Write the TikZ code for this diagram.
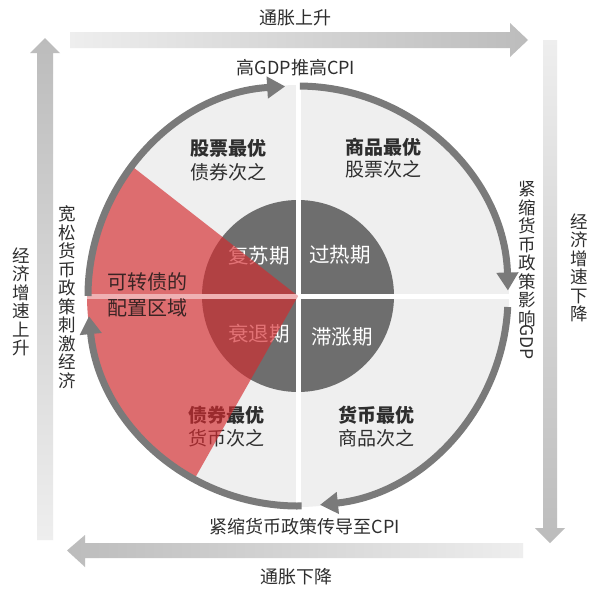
\documentclass[tikz,border=0pt]{standalone}
\usepackage{fontspec}
\newfontfamily\cjk{Noto Sans CJK SC}
\usetikzlibrary{arrows.meta,calc}
\definecolor{ringgray}{HTML}{7A7A7A}
\definecolor{diskgray}{HTML}{EFEFEF}
\definecolor{innergray}{HTML}{6E6E6E}
\definecolor{redov}{HTML}{D42A2E}
\definecolor{txt}{HTML}{2E2E2E}
\definecolor{cvtxt}{HTML}{3A2424}
\definecolor{barlight}{HTML}{EEEEEE}
\definecolor{bardark}{HTML}{BCBCBC}
\begin{document}
\begin{tikzpicture}[x=1pt,y=-1pt,
  lbl/.style={font=\cjk\fontsize{18}{20}\selectfont, text=txt, inner sep=0pt},
  quad/.style={font=\cjk\fontsize{19}{21}\selectfont, text=txt, inner sep=0pt, anchor=west},
  quadb/.style={quad, font=\cjk\bfseries\fontsize{19}{21}\selectfont},
  phase/.style={font=\cjk\fontsize{20.5}{22}\selectfont, text=white, inner sep=0pt},
  cvl/.style={font=\cjk\fontsize{20}{22}\selectfont, text=cvtxt, inner sep=0pt, anchor=west},
  vlbl/.style={font=\cjk\fontsize{17.5}{18.5}\selectfont, text=txt, inner sep=0pt, align=center},
  ringarc/.style={line width=7pt, draw=ringgray, -{Triangle[length=18pt,width=21pt]}},
  divider/.style={draw=white, line width=5pt},
]
\useasboundingbox (0,0) rectangle (600,590);
\fill[white] (0,0) rectangle (600,590);
\coordinate (O) at (298,296);
\coordinate (L) at (87,296);
\coordinate (R) at (509,296);
\coordinate (T) at (298,85);
\coordinate (B) at (298,507);
% disk and inner circle
\fill[diskgray] (O) circle[radius=211];
\fill[innergray] (O) circle[radius=96];
\draw[divider] (L) -- (R);
\draw[divider] (T) -- (B);
% quadrant labels
\node[quadb] (a1) at (190,148) {股票最优};
\node[quad]  (a2) at (190,172) {债券次之};
\node[quadb] (b1) at (345,147) {商品最优};
\node[quad]  (b2) at (345,169) {股票次之};
\node[quadb] (c1) at (188,415) {债券最优};
\node[quad]  (c2) at (188,438) {货币次之};
\node[quadb] (d1) at (338,415) {货币最优};
\node[quad]  (d2) at (338,438) {商品次之};
% phases
\node[phase] (p1) at (259,256) {复苏期};
\node[phase] (p2) at (340,255) {过热期};
\node[phase] (p3) at (259,334) {衰退期};
\node[phase] (p4) at (342,337) {滞涨期};
% red overlay
\fill[redov, opacity=0.66] (O) -- ($(O)+(-142:211)$) arc[start angle=-142, end angle=-240.5, radius=211] -- cycle;
\begin{scope}
  \clip (O) -- ($(O)+(-142:211)$) arc[start angle=-142, end angle=-240.5, radius=211] -- cycle;
  \draw[white, opacity=0.45, line width=5pt] (L) -- (O);
\end{scope}
\node[cvl] (cv1) at (107,282) {可转债的};
\node[cvl] (cv2) at (107,308) {配置区域};
% ring arrows
\draw[ringarc] ($(O)+(-180:210)$) arc[start angle=-180, end angle=-93.5, radius=210];
\draw[ringarc] ($(O)+(-89.5:210)$) arc[start angle=-89.5, end angle=-1.5, radius=210];
\draw[ringarc] ($(O)+(3:210)$) arc[start angle=3, end angle=84, radius=210];
\draw[ringarc] ($(O)+(89:210)$) arc[start angle=89, end angle=174.5, radius=210];
% outer bars
\shade[left color=barlight, right color=bardark] (70,32) -- (510,32) -- (510,23) -- (528,40) -- (510,57) -- (510,48) -- (70,48) -- cycle;
\shade[top color=barlight, bottom color=bardark] (543,40) -- (557,40) -- (557,528) -- (565,528) -- (550,543) -- (535,528) -- (543,528) -- cycle;
\shade[right color=barlight, left color=bardark] (523,543) -- (523,558) -- (85,558) -- (85,567) -- (67,550.5) -- (85,535) -- (85,543) -- cycle;
\shade[bottom color=barlight, top color=bardark] (37,540) -- (53,540) -- (53,53) -- (60,53) -- (45,38) -- (30,53) -- (37,53) -- cycle;
% outer labels
\node[lbl] (t1) at (295,18) {通胀上升};
\node[lbl] (t2) at (296,68) {高GDP推高CPI};
\node[lbl] (t3) at (305,527) {紧缩货币政策传导至CPI};
\node[lbl] (t4) at (296,577) {通胀下降};
\node[vlbl] (v1) at (21,302) {经\\济\\增\\速\\上\\升};
\node[vlbl] (v2) at (579,268) {经\\济\\增\\速\\下\\降};
\node[vlbl] (v3) at (67,297) {宽\\松\\货\\币\\政\\策\\刺\\激\\经\\济};
\node[vlbl] (v4) at (527,254) {紧\\缩\\货\\币\\政\\策\\影\\响};
\node[lbl, font=\cjk\fontsize{17.5}{18.5}\selectfont, rotate=-90, anchor=west] (v4g) at ([yshift=3pt]v4.south) {GDP};
\end{tikzpicture}
\end{document}
